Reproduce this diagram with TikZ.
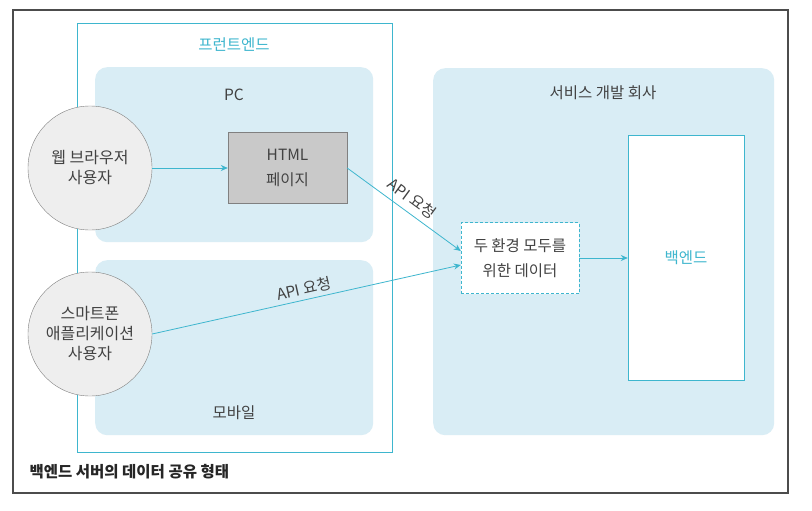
\documentclass[tikz,border=0pt]{standalone}
\usepackage{fontspec}
\setmainfont{Noto Sans CJK KR}
\usetikzlibrary{arrows.meta}
\definecolor{linecyan}{RGB}{62,182,206}
\definecolor{panelblue}{RGB}{217,237,245}
\definecolor{htmlgray}{RGB}{201,201,201}
\definecolor{inkgray}{RGB}{66,66,66}
\tikzset{
	panel/.style={fill=panelblue, rounded corners=12pt, inner sep=0pt, anchor=north west},
	user/.style={circle, draw=gray, fill=gray!13, minimum size=124pt, inner sep=0pt, align=center, text=inkgray, font=\fontsize{16}{20}\selectfont},
	databox/.style={rectangle, inner sep=0pt, align=center, text=inkgray, font=\fontsize{15.5}{25}\selectfont},
	request/.style={->, linecyan, thick},
	tag/.style={text=inkgray, font=\fontsize{15.5}{18}\selectfont}
}

\begin{document}
\begin{tikzpicture}[x=1pt, y=-1pt, >={Stealth[length=7pt,width=6pt]}]
			\useasboundingbox (0, 0) rectangle (812, 511);
			\fill[white] (0, 0) rectangle (812, 511);
			\draw[gray!60!black, line width=1.5pt] (13, 10) rectangle (788, 493);
			\draw[linecyan] (77, 23) rectangle (392, 452);
			\node[tag, text=linecyan] (fetitle) at (234, 45) {프런트엔드};
			\node[panel, minimum width=278pt, minimum height=175pt] (pc) at (95, 67) {};
			\node[tag] (pctitle) at (234, 95) {PC};
			\node[panel, minimum width=278pt, minimum height=175pt] (mobile) at (95, 260) {};
			\node[tag] (mobiletitle) at (234, 413) {모바일};
			\node[panel, minimum width=341pt, minimum height=367pt] (company) at (433, 68) {};
			\node[tag] (companytitle) at (603, 93) {서비스 개발 회사};
			\node[user] (web) at (90, 168) {웹 브라우저\\사용자};
			\node[user] (app) at (90, 334) {스마트폰\\애플리케이션\\사용자};
			\node[databox, draw=gray, fill=htmlgray, minimum width=119pt, minimum height=71pt] (html) at (287.5, 168) {HTML\\페이지};
			\node[databox, draw=linecyan, densely dashed, fill=white, minimum width=118pt, minimum height=71pt] (data) at (520, 258) {두 환경 모두를\\위한 데이터};
			\node[databox, draw=linecyan, fill=white, text=linecyan, minimum width=116pt, minimum height=245pt] (backend) at (686, 258) {백엔드};
			\draw[request] (web.east) -- (html.west);
			\draw[request] (html.east) -- node[tag, sloped, above=3pt] {API 요청} ([yshift=7pt]data.west);
			\draw[request] (app.east) -- node[tag, sloped, above] {API 요청} ([yshift=-7pt]data.west);
			\draw[request] (data.east) -- (backend.west);
			\node[anchor=west, text=black!85, font=\fontsize{15.5}{18}\selectfont\bfseries] (caption) at (26, 472) {백엔드 서버의 데이터 공유 형태};
		\end{tikzpicture}
\end{document}
